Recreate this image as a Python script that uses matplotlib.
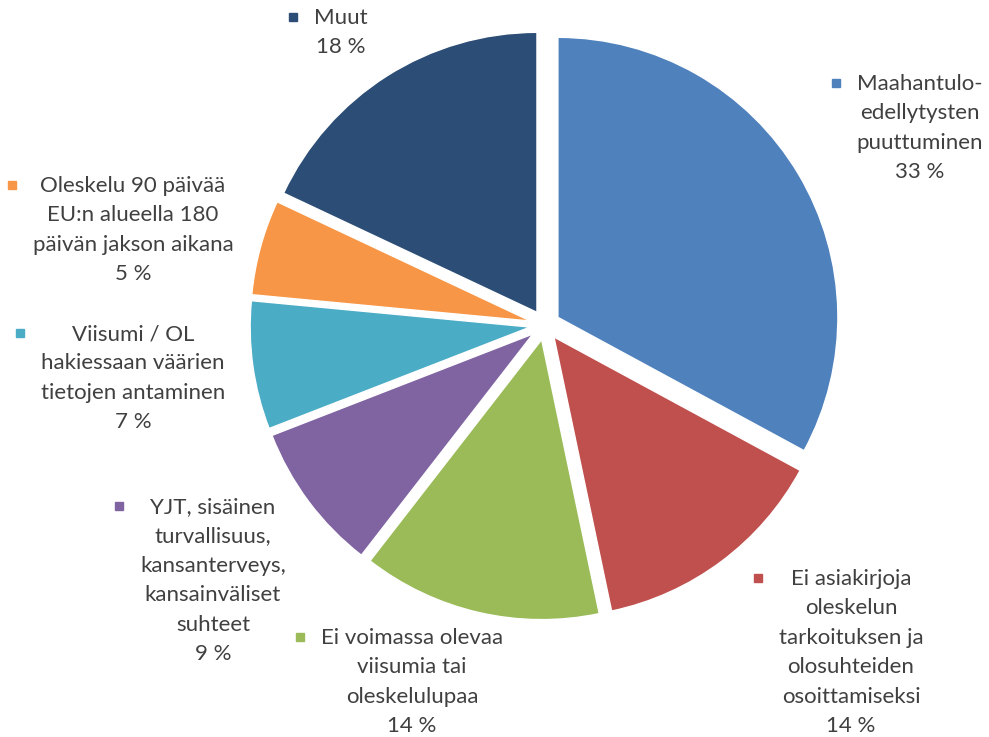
import matplotlib.pyplot as plt

# data, clockwise from 12 o'clock
categories = [
    "Maahantulo-\nedellytysten\npuuttuminen",
    "Ei asiakirjoja\noleskelun\ntarkoituksen ja\nolosuhteiden\nosoittamiseksi",
    "Ei voimassa olevaa\nviisumia tai\noleskelulupaa",
    "YJT, sisäinen\nturvallisuus,\nkansanterveys,\nkansainväliset\nsuhteet",
    "Viisumi / OL\nhakiessaan väärien\ntietojen antaminen",
    "Oleskelu 90 päivää\nEU:n alueella 180\npäivän jakson aikana",
    "Muut",
]
shares = [32.9, 13.8, 13.8, 8.6, 7.4, 5.5, 18.0]
pct_labels = ["33 %", "14 %", "14 %", "9 %", "7 %", "5 %", "18 %"]
colors = ["#4F81BD", "#C0504D", "#9BBB59", "#8064A2", "#4BACC6", "#F79646", "#2C4D75"]

# label layout: centre x, first line centre y (pixels from top)
label_pos = [(920, 83), (851, 578), (412, 637), (213, 506), (133, 333), (133, 185), (341, 17)]
line_step = 29.4

W, H = 989, 737
fig = plt.figure(figsize=(W / 100, H / 100), dpi=100)
ax = fig.add_axes([0, 0, 1, 1])

# explode is in data units (pixels here)
ax.pie(shares, colors=colors, startangle=90, counterclock=False,
       explode=[15] * len(shares), radius=280, center=(545, H - 325),
       wedgeprops=dict(edgecolor="white", linewidth=1))
ax.set_xlim(0, W)
ax.set_ylim(0, H)
ax.set_aspect("equal")
ax.axis("off")

fig.canvas.draw()
renderer = fig.canvas.get_renderer()

for cat, pct, col, (cx, y0) in zip(categories, pct_labels, colors, label_pos):
    lines = cat.split("\n") + [pct]
    texts = []
    for j, line in enumerate(lines):
        t = ax.text(cx, H - (y0 + j * line_step + 7), line, ha="center", va="baseline",
                    fontsize=16, family="Lato", color="#404040")
        texts.append(t)
    left = min(t.get_window_extent(renderer).x0 for t in texts)
    ax.plot([left - 21], [H - y0], marker="s", markersize=5.8, color=col, linestyle="none")

fig.savefig("out.png", dpi=100)
